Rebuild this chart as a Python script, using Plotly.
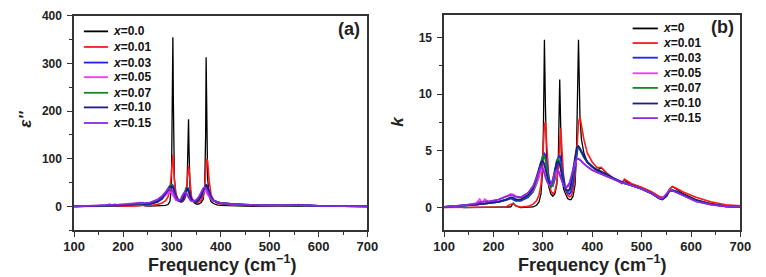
import plotly.graph_objects as go

# ---------------- data ----------------
labels_a = ["x=0.0", "x=0.01", "x=0.03", "x=0.05", "x=0.07", "x=0.10", "x=0.15"]
labels_b = ["x=0", "x=0.01", "x=0.03", "x=0.05", "x=0.07", "x=0.10", "x=0.15"]
colors = ["#000000", "#ff1a1a", "#2020ff", "#ff33ff", "#108a20", "#1c1c8c", "#8a2be2"]

freq_a = [100, 140, 165, 172, 178, 183, 190, 210, 225, 235,
          240, 245, 255, 270, 280, 287, 292, 296, 299, 301,
          302, 303, 305, 308, 313, 318, 322, 326, 329, 331,
          333, 334, 335, 337, 340, 345, 350, 355, 360, 364,
          367, 369, 370, 371, 373, 376, 380, 385, 392, 400,
          420, 450, 480, 520, 545, 558, 570, 600, 650, 700]

eps_x000 = [0, 0, 0, 0, 0, 0, 0, 0, 0.5, 1.5,
            3, 1, 0.5, 0.5, 1, 2, 4, 10, 40, 200,
            355, 220, 60, 25, 12, 9, 10, 15, 25, 45,
            120, 183, 120, 40, 18, 8, 5, 5, 8, 15,
            40, 150, 313, 200, 60, 22, 10, 6, 3, 2,
            1, 0.5, 0, 0, 0, 0.5, 0, 0, 0, 0]
eps_x001 = [0, 0, 0, 0, 0, 0, 0, 0.5, 1, 2,
            2.5, 2, 2, 4, 7, 12, 20, 35, 70, 105,
            108, 95, 55, 28, 13, 10, 12, 18, 30, 50,
            80, 85, 78, 45, 20, 10, 8, 9, 13, 22,
            40, 70, 90, 100, 95, 55, 25, 13, 7, 5,
            3, 2, 1, 1, 2, 4, 2, 1, 0.5, 0]
eps_x003 = [0, 0.5, 1, 1, 1.5, 1.5, 2, 3, 5, 6,
            5, 4, 5, 9, 16, 25, 33, 40, 44, 45,
            44, 42, 35, 22, 13, 11, 14, 22, 32, 37,
            38, 36, 33, 25, 15, 10, 10, 13, 20, 30,
            38, 42, 44, 45, 42, 32, 20, 13, 9, 7,
            5, 3, 2, 1.5, 2.5, 3, 2, 1, 0.5, 0]
eps_x005 = [0, 1, 2, 5, 3, 5, 3, 4, 7, 8,
            7, 6, 7, 12, 18, 24, 28, 30, 29, 26,
            24, 22, 18, 13, 12, 14, 19, 25, 26, 24,
            21, 19, 17, 14, 11, 10, 12, 16, 24, 31,
            33, 32, 31, 29, 25, 20, 15, 11, 9, 7,
            5, 3, 2, 2, 3, 3.5, 2, 1, 0.5, 0]
eps_x007 = [0, 0.5, 1, 1, 1.5, 1.5, 2, 3, 5, 6,
            5, 5, 6, 11, 19, 29, 38, 44, 45, 43,
            41, 38, 30, 20, 13, 12, 17, 30, 38, 37,
            33, 30, 27, 20, 13, 10, 11, 15, 24, 35,
            42, 43, 42, 40, 35, 26, 17, 12, 9, 7,
            5, 3, 2, 1.5, 2.5, 3, 2, 1, 0.5, 0]
eps_x010 = [0, 0.5, 1, 1, 1.5, 1.5, 2, 3, 5, 6.5,
            5.5, 5, 6, 10, 17, 27, 36, 41, 42, 41,
            40, 38, 31, 20, 12, 11, 15, 26, 34, 37,
            36, 34, 31, 23, 14, 10, 10, 14, 22, 33,
            40, 44, 45, 44, 40, 30, 19, 13, 9, 7,
            5, 3, 2, 1.5, 2.5, 3, 2, 1, 0.5, 0]
eps_x015 = [0, 1, 2, 3, 3, 3.5, 3.5, 5, 7, 8,
            7.5, 7, 8, 14, 22, 30, 36, 38, 36, 33,
            31, 29, 24, 17, 12, 15, 24, 30, 29, 26,
            22, 20, 18, 14, 11, 11, 14, 20, 30, 38,
            40, 39, 37, 35, 30, 23, 16, 12, 9, 7,
            5, 3.5, 2.5, 2, 3, 3.5, 2.5, 1, 0.5, 0]

freq_b = [100, 120, 140, 165, 172, 177, 182, 190, 210, 225,
          235, 240, 245, 255, 270, 280, 287, 292, 296, 299,
          301, 303, 305, 308, 312, 316, 320, 324, 328, 331,
          334, 336, 338, 342, 346, 350, 354, 357, 361, 365,
          368, 370, 372, 375, 378, 383, 390, 400, 410, 418,
          430, 445, 460, 465, 480, 500, 520, 535, 542, 550,
          556, 562, 570, 585, 610, 640, 670, 700]

k_x000 = [0, 0.1, 0, 0, 0, 0, 0, 0, 0, 0,
          0.05, 0.4, 0.15, 0, 0, 0.05, 0.2, 0.5, 1.2, 3,
          7, 14.8, 9, 3.5, 1.8, 1.2, 1.0, 1.2, 2.0, 4,
          11.3, 6, 3, 1.6, 1.1, 0.8, 0.7, 0.7, 1.0, 2,
          5, 11, 14.8, 8, 6, 4.8, 4.0, 3.6, 3.3, 3.5,
          3.0, 2.5, 2.2, 2.4, 2.0, 1.7, 1.3, 0.8, 0.75, 1.1,
          1.6, 1.85, 1.6, 1.2, 0.7, 0.35, 0.15, 0.1]
k_x001 = [0, 0, 0, 0, 0, 0, 0, 0, 0, 0.05,
          0.3, 0.35, 0.15, 0.05, 0.1, 0.3, 0.6, 1.1, 2, 3.5,
          5.5, 7.4, 7.5, 5, 2.5, 1.5, 1.2, 1.4, 2.2, 3.5,
          6, 7.0, 5.5, 2.5, 1.5, 1.1, 0.95, 1.0, 1.5, 2.8,
          4.5, 6, 7.5, 8.0, 7.3, 6.0, 4.8, 4.0, 3.5, 3.55,
          3.0, 2.5, 2.1, 2.5, 2.1, 1.8, 1.4, 1.0, 0.9, 1.1,
          1.6, 1.85, 1.7, 1.35, 0.9, 0.5, 0.25, 0.15]
k_x003 = [0.05, 0.1, 0.15, 0.25, 0.3, 0.3, 0.35, 0.4, 0.5, 0.65,
          0.8, 0.7, 0.6, 0.6, 0.9, 1.4, 2.1, 2.8, 3.6, 4.3,
          4.6, 4.75, 4.6, 3.8, 2.6, 2.0, 1.9, 2.5, 3.6, 4.4,
          4.6, 4.3, 3.6, 2.4, 1.6, 1.3, 1.2, 1.4, 2.2, 3.5,
          4.6, 5.1, 5.35, 5.2, 4.9, 4.5, 4.0, 3.6, 3.25, 3.1,
          2.85, 2.5, 2.2, 2.15, 1.95, 1.65, 1.25, 0.85, 0.75, 1.0,
          1.5, 1.55, 1.4, 1.1, 0.6, 0.3, 0.1, 0.05]
k_x005 = [0.05, 0.1, 0.2, 0.4, 0.75, 0.4, 0.75, 0.5, 0.7, 1.0,
          1.2, 1.15, 1.0, 0.9, 1.1, 1.5, 2.1, 2.7, 3.3, 3.5,
          3.4, 3.1, 2.8, 2.4, 2.0, 1.8, 2.0, 2.7, 3.3, 3.3,
          3.0, 2.7, 2.4, 2.0, 1.8, 1.8, 2.0, 2.4, 3.2, 3.9,
          4.2, 4.3, 4.3, 4.25, 4.1, 3.9, 3.6, 3.3, 3.1, 2.95,
          2.75, 2.45, 2.2, 2.15, 1.95, 1.65, 1.25, 0.85, 0.8, 1.2,
          1.55, 1.5, 1.35, 1.05, 0.55, 0.25, 0.1, 0.05]
k_x007 = [0.05, 0.1, 0.15, 0.25, 0.3, 0.3, 0.35, 0.4, 0.5, 0.7,
          0.85, 0.8, 0.7, 0.7, 1.0, 1.6, 2.4, 3.3, 4.1, 4.5,
          4.6, 4.5, 4.2, 3.4, 2.3, 1.8, 2.0, 3.0, 4.2, 4.3,
          4.0, 3.6, 3.0, 2.1, 1.6, 1.4, 1.5, 1.9, 3.0, 4.3,
          5.0, 5.25, 5.3, 5.1, 4.8, 4.4, 4.0, 3.6, 3.3, 3.2,
          2.9, 2.5, 2.2, 2.15, 1.95, 1.65, 1.25, 0.85, 0.75, 1.05,
          1.5, 1.5, 1.4, 1.1, 0.6, 0.3, 0.1, 0.05]
k_x010 = [0.05, 0.1, 0.15, 0.25, 0.3, 0.3, 0.35, 0.4, 0.5, 0.7,
          0.9, 0.85, 0.7, 0.7, 1.1, 1.7, 2.6, 3.4, 4.0, 4.1,
          4.0, 3.8, 3.4, 2.8, 2.2, 2.0, 2.4, 3.3, 4.0, 4.05,
          3.8, 3.4, 2.9, 2.0, 1.6, 1.5, 1.6, 2.1, 3.3, 4.6,
          5.2, 5.35, 5.4, 5.2, 4.9, 4.5, 4.0, 3.6, 3.3, 3.15,
          2.9, 2.5, 2.2, 2.15, 1.95, 1.65, 1.25, 0.8, 0.7, 1.0,
          1.45, 1.5, 1.4, 1.1, 0.6, 0.3, 0.1, 0.05]
k_x015 = [0.05, 0.1, 0.2, 0.35, 0.5, 0.45, 0.55, 0.55, 0.7, 0.95,
          1.1, 1.05, 0.95, 0.9, 1.3, 1.9, 2.7, 3.3, 3.6, 3.5,
          3.3, 3.0, 2.7, 2.3, 2.0, 2.0, 2.5, 3.1, 3.3, 3.2,
          2.9, 2.6, 2.3, 1.9, 1.8, 1.9, 2.2, 2.7, 3.5, 4.0,
          4.25, 4.3, 4.3, 4.2, 4.05, 3.85, 3.6, 3.3, 3.1, 2.95,
          2.75, 2.45, 2.2, 2.15, 1.95, 1.65, 1.25, 0.85, 0.8, 1.15,
          1.5, 1.5, 1.35, 1.05, 0.55, 0.25, 0.1, 0.05]

eps_series = [eps_x000, eps_x001, eps_x003, eps_x005, eps_x007, eps_x010, eps_x015]
k_series = [k_x000, k_x001, k_x003, k_x005, k_x007, k_x010, k_x015]
widths = [1.3, 1.6, 1.8, 1.6, 1.8, 1.8, 1.8]

FONT = "Arial, Liberation Sans, sans-serif"
W, H = 766, 277

def lbl(s):
    return "<b><i>x</i>" + s[1:] + "</b>"

fig = go.Figure()
for i in range(7):
    fig.add_trace(go.Scatter(x=freq_a, y=eps_series[i], mode="lines",
                             line=dict(color=colors[i], width=widths[i]),
                             name=lbl(labels_a[i]), xaxis="x", yaxis="y",
                             showlegend=False))
for i in range(7):
    fig.add_trace(go.Scatter(x=freq_b, y=k_series[i], mode="lines",
                             line=dict(color=colors[i], width=widths[i]),
                             name=lbl(labels_b[i]), xaxis="x2", yaxis="y2",
                             showlegend=False))

def axis_common(size):
    return dict(showline=True, linecolor="#333", linewidth=1.5, mirror=True,
                ticks="outside", ticklen=5, tickwidth=1.3, tickcolor="#333",
                showgrid=False, zeroline=False,
                tickfont=dict(family=FONT, size=size, color="#222", weight="bold"))

minor_x = dict(dtick=50, ticklen=3, ticks="outside", tickcolor="#333")
ya = 1 - 229 / H

fig.update_layout(
    width=W, height=H, margin=dict(l=0, r=0, t=0, b=0),
    paper_bgcolor="white", plot_bgcolor="white", showlegend=False,
    xaxis=dict(domain=[65 / W, 367 / W], range=[100, 700], dtick=100,
               minor=minor_x, anchor="y", ticklabelstandoff=-2, **axis_common(13)),
    yaxis=dict(domain=[ya, 1 - 9 / H], range=[-50, 400], dtick=100, tick0=0,
               minor=dict(dtick=50, ticklen=3, ticks="outside", tickcolor="#333"),
               anchor="x", ticklabelstandoff=3, **axis_common(12)),
    xaxis2=dict(domain=[446 / W, 751 / W], range=[100, 700], dtick=100,
                minor=minor_x, anchor="y2", ticklabelstandoff=-2, **axis_common(13)),
    yaxis2=dict(domain=[ya, 1 - 8 / H], range=[-2, 17], dtick=5, tick0=0,
                minor=dict(dtick=2.5, ticklen=3, ticks="outside", tickcolor="#333"),
                anchor="x2", ticklabelstandoff=3, **axis_common(12)),
)

# custom legends (compact row spacing like the reference)
leg_a = dict(x0=75, x1=100, tx=103, rows=[25, 41, 57, 72, 88, 103, 119], labels=labels_a)
leg_b = dict(x0=640, x1=666, tx=669, rows=[22, 37, 52, 68, 83, 99, 114], labels=labels_b)
for leg in (leg_a, leg_b):
    for i, yy in enumerate(leg["rows"]):
        fig.add_shape(type="line", xref="paper", yref="paper",
                      x0=leg["x0"] / W, x1=leg["x1"] / W, y0=1 - yy / H, y1=1 - yy / H,
                      line=dict(color=colors[i], width=1.8))
        fig.add_annotation(xref="paper", yref="paper", showarrow=False,
                           x=leg["tx"] / W, y=1 - yy / H, xanchor="left", yanchor="middle",
                           text=lbl(leg["labels"][i]),
                           font=dict(family=FONT, size=12, color="#111"))

annots = [
    dict(text="<b>Frequency (cm<sup>−1</sup>)</b>", x=217 / W, y=1 - 263 / H,
         font=dict(family=FONT, size=18, color="#222")),
    dict(text="<b>Frequency (cm<sup>−1</sup>)</b>", x=598 / W, y=1 - 263 / H,
         font=dict(family=FONT, size=18, color="#222")),
    dict(text="<b><i>ε''</i></b>", x=14 / W, y=1 - 115 / H, textangle=-90,
         font=dict(family=FONT, size=17, color="#222")),
    dict(text="<b><i>k</i></b>", x=397 / W, y=1 - 117 / H, textangle=-90,
         font=dict(family=FONT, size=17, color="#222")),
    dict(text="<b>(a)</b>", x=348 / W, y=1 - 23 / H,
         font=dict(family=FONT, size=18, color="#222")),
    dict(text="<b>(b)</b>", x=733 / W, y=1 - 21 / H,
         font=dict(family=FONT, size=18, color="#222")),
]
for a in annots:
    fig.add_annotation(xref="paper", yref="paper", showarrow=False,
                       xanchor="center", yanchor="middle", **a)

fig.write_html("out.html")
